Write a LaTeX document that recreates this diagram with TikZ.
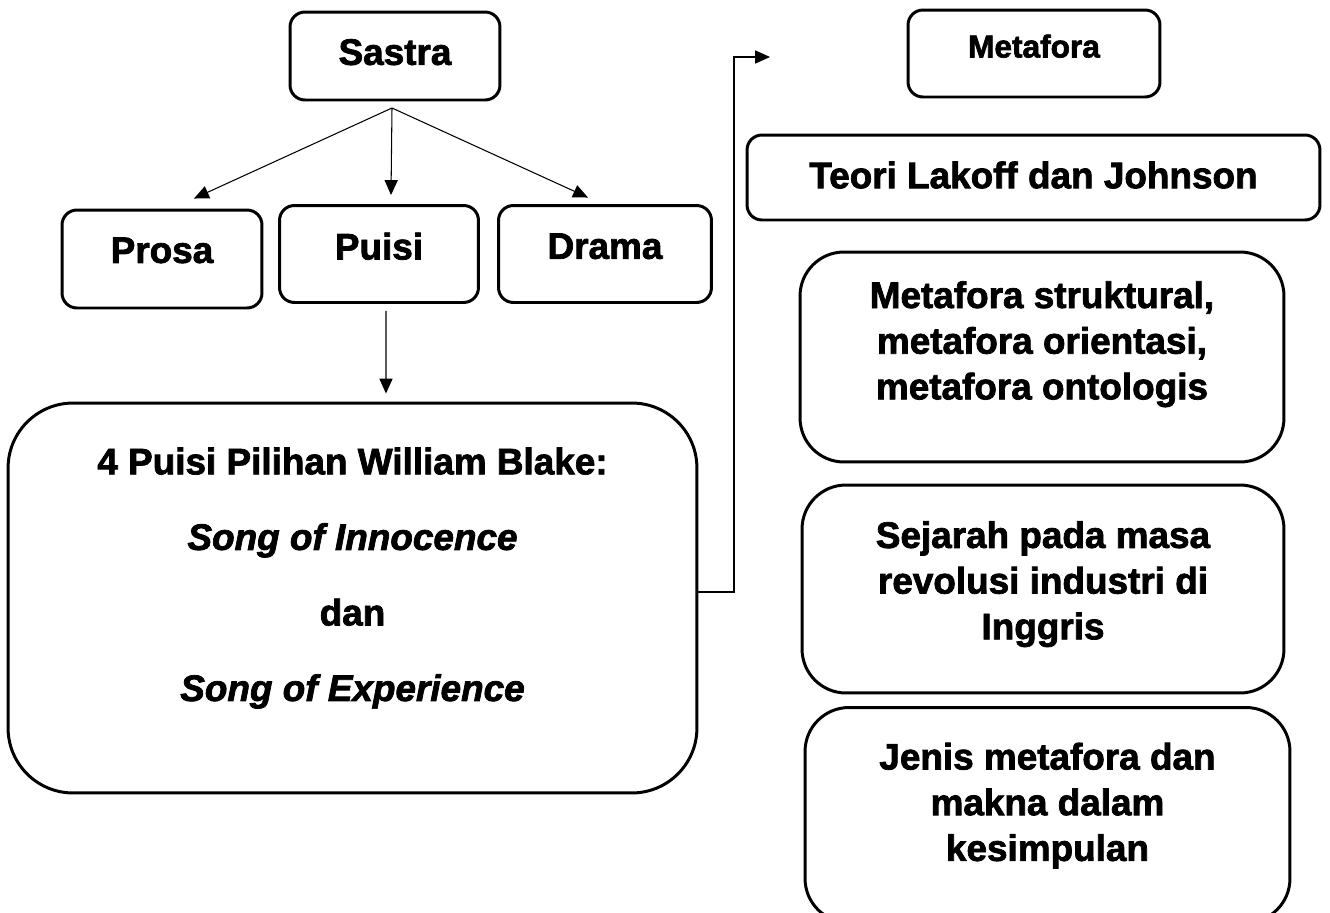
\documentclass[tikz,border=0pt]{standalone}
\usepackage{fontspec}
\setmainfont{Liberation Sans}[BoldFeatures={FakeBold=2}, BoldItalicFeatures={FakeBold=2}]
\usepackage{tikz}
\usetikzlibrary{
    arrows.meta,
    calc,
    positioning
}

\tikzset{
    box/.style={draw, line width=1.7pt, rounded corners=8.5pt, align=center, inner sep=0pt,
        font=\bfseries\fontsize{21}{26}\selectfont},
    bigbox/.style={box, rounded corners=25pt},
    link/.style={line width=0.6pt, -{Triangle[length=8.5pt, width=7.5pt]}}
}

\begin{document}
\begin{tikzpicture}[x=0.02cm, y=-0.02cm]
    \useasboundingbox (0,0) rectangle (1330,913);
    % left side
    \node[box, minimum width=4.2cm, minimum height=1.76cm, text depth=4.6pt] (sastra) at (395,56) {Sastra};
    \node[box, minimum width=4.0cm, minimum height=1.96cm, text depth=10pt] (prosa) at (162,259) {Prosa};
    \node[box, minimum width=3.98cm, minimum height=1.94cm, text depth=9pt] (puisi) at (379,254) {Puisi};
    \node[box, minimum width=4.26cm, minimum height=1.94cm, text depth=9pt] (drama) at (605,254) {Drama};
    \node[box, rounded corners=37pt, minimum width=13.78cm, minimum height=7.8cm, text depth=27pt] (blake) at (352.5,598)
        {4 Puisi Pilihan William Blake:\\[17pt] \textit{Song of Innocence}\\[17pt] dan\\[17pt] \textit{Song of Experience}};
    % right side
    \node[box, minimum width=5.04cm, minimum height=1.74cm, text depth=8.5pt, font=\bfseries\fontsize{18}{22}\selectfont] (metafora) at (1034,53.5) {Metafora};
    \node[box, minimum width=11.46cm, minimum height=1.7cm, text depth=3pt] (teori) at (1033.5,177.5) {Teori Lakoff dan Johnson};
    \node[bigbox, minimum width=9.68cm, minimum height=4.2cm, text depth=19pt] (struktur) at (1042,357)
        {Metafora struktural,\\ metafora orientasi,\\ metafora ontologis};
    \node[bigbox, minimum width=9.64cm, minimum height=4.16cm, text depth=10pt] (sejarah) at (1043,589)
        {Sejarah pada masa\\ revolusi industri di\\ Inggris};
    \node[bigbox, minimum width=9.7cm, minimum height=4.3cm, text depth=15pt] (jenis) at (1047.5,815)
        {Jenis metafora dan\\ makna dalam\\ kesimpulan};

    \coordinate (fork) at (392,108);
    \coordinate (elbow) at (734,57);
    \coordinate (metaforaIn) at (770,57);

    \draw[link] (fork) -- ([xshift=0.64cm, yshift=0.2cm]prosa.north);
    \draw[link] (fork) -- ([xshift=0.24cm, yshift=0.18cm]puisi.north);
    \draw[link] (fork) -- ([xshift=-0.34cm, yshift=0.13cm]drama.north);
    \draw[link] ([xshift=0.14cm, yshift=-0.14cm]puisi.south) -- ([xshift=0.67cm, yshift=0.16cm]blake.north);
    \draw[link] ([yshift=0.12cm]blake.east) -| (elbow) -- (metaforaIn);
\end{tikzpicture}
\end{document}
